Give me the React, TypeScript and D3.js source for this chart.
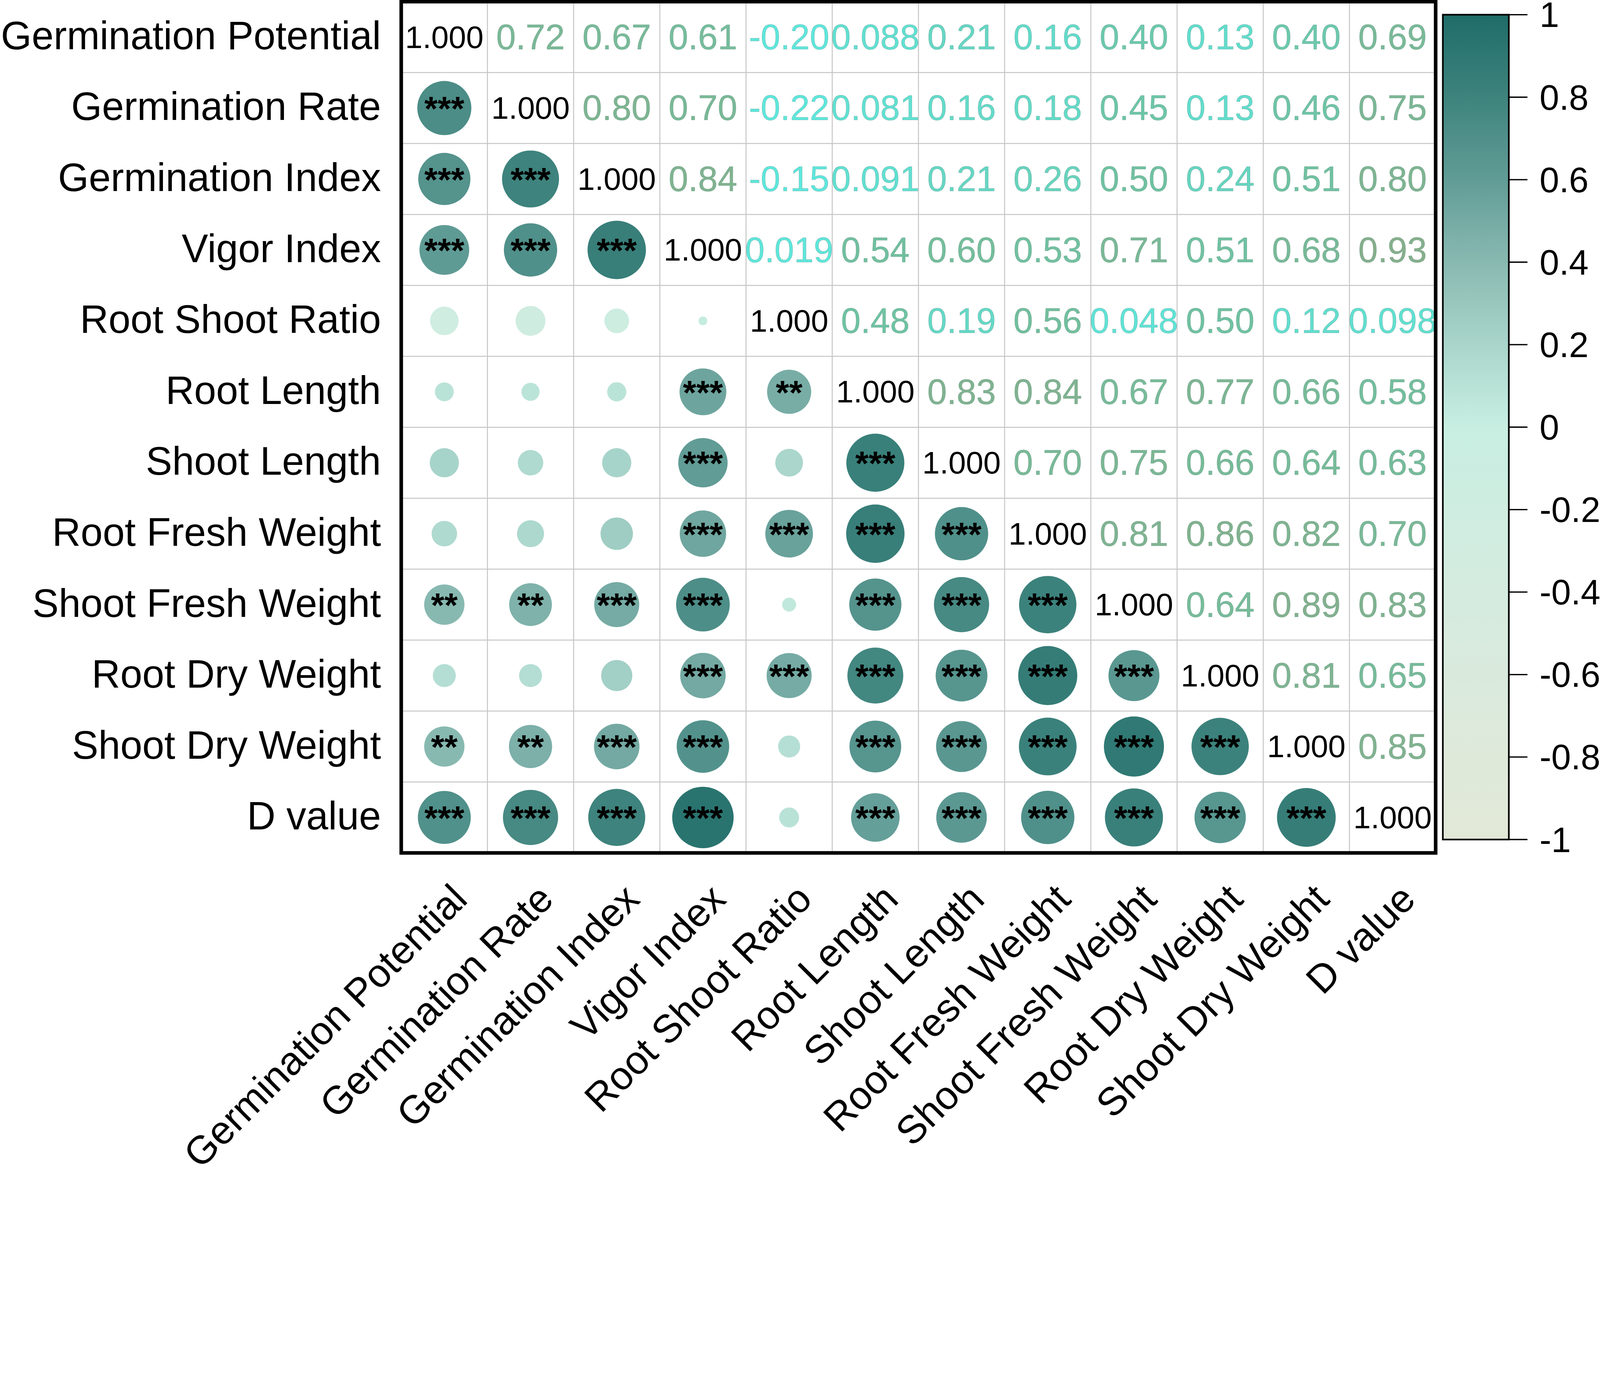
import React from "react";
import * as d3 from "d3";

const labels = [
  "Germination Potential",
  "Germination Rate",
  "Germination Index",
  "Vigor Index",
  "Root Shoot Ratio",
  "Root Length",
  "Shoot Length",
  "Root Fresh Weight",
  "Shoot Fresh Weight",
  "Root Dry Weight",
  "Shoot Dry Weight",
  "D value",
];

// upper triangle, row i holds columns i+1..11
const upper: number[][] = [
  [0.72, 0.67, 0.61, -0.2, 0.088, 0.21, 0.16, 0.4, 0.13, 0.4, 0.69],
  [0.8, 0.7, -0.22, 0.081, 0.16, 0.18, 0.45, 0.13, 0.46, 0.75],
  [0.84, -0.15, 0.091, 0.21, 0.26, 0.5, 0.24, 0.51, 0.8],
  [0.019, 0.54, 0.6, 0.53, 0.71, 0.51, 0.68, 0.93],
  [0.48, 0.19, 0.56, 0.048, 0.5, 0.12, 0.098],
  [0.83, 0.84, 0.67, 0.77, 0.66, 0.58],
  [0.7, 0.75, 0.66, 0.64, 0.63],
  [0.81, 0.86, 0.82, 0.7],
  [0.64, 0.89, 0.83],
  [0.81, 0.65],
  [0.85],
];

// significance marks, lower triangle, row i holds columns 0..i-1
const stars: string[][] = [
  [],
  ["***"],
  ["***", "***"],
  ["***", "***", "***"],
  ["", "", "", ""],
  ["", "", "", "***", "**"],
  ["", "", "", "***", "", "***"],
  ["", "", "", "***", "***", "***", "***"],
  ["**", "**", "***", "***", "", "***", "***", "***"],
  ["", "", "", "***", "***", "***", "***", "***", "***"],
  ["**", "**", "***", "***", "", "***", "***", "***", "***", "***"],
  ["***", "***", "***", "***", "", "***", "***", "***", "***", "***", "***"],
];

const barTicks = [1, 0.8, 0.6, 0.4, 0.2, 0, -0.2, -0.4, -0.6, -0.8, -1];

const W = 4897;
const H = 3568;
const FONT = "'Liberation Sans', Arial, sans-serif";
const frame = { x0: 1228, x1: 4394, y0: 5, y1: 2610 };
const bar = { x0: 4416, x1: 4618, y0: 45, y1: 2569 };

const circleColor = d3
  .scaleLinear<string>()
  .domain([-1, -0.4, 0, 0.2, 0.4, 0.6, 0.8, 1])
  .range([
    "#e2e8d8",
    "#d5ebdf",
    "#c8eee2",
    "#a9d5cb",
    "#88b9b1",
    "#619c96",
    "#3e837d",
    "#1f6c69",
  ]);

const textColor = d3
  .scaleLinear<string>()
  .domain([0, 0.5, 1])
  .range(["#5ee7dd", "#6fc2a1", "#88ac88"])
  .clamp(true);

function value(i: number, j: number) {
  if (i === j) return 1;
  const a = Math.min(i, j);
  const b = Math.max(i, j);
  return upper[a][b - a - 1];
}

function fmt(v: number) {
  return Math.abs(v) < 0.1 ? v.toFixed(3) : v.toFixed(2);
}

export default function App() {
  const n = labels.length;
  const idx = d3.range(n);
  const x = d3.scaleBand<number>().domain(idx).range([frame.x0, frame.x1]);
  const y = d3.scaleBand<number>().domain(idx).range([frame.y0, frame.y1]);
  const cx = (j: number) => x(j)! + x.bandwidth() / 2;
  const cy = (i: number) => y(i)! + y.bandwidth() / 2;
  const rMax = 97.5;
  const size = d3.scaleSqrt().domain([0, 1]).range([0, rMax]);

  const yBar = d3.scaleLinear().domain([-1, 1]).range([bar.y1, bar.y0]);
  const gradStops = d3.range(0, 1.0001, 0.05).map((t) => ({
    t,
    c: circleColor(1 - 2 * t),
  }));

  return (
    <svg
      viewBox={`0 0 ${W} ${H}`}
      preserveAspectRatio="xMinYMin meet"
      style={{
        position: "absolute",
        left: 0,
        top: 0,
        width: "100vw",
        height: `calc(100vw * ${H} / ${W})`,
        display: "block",
        background: "#fff",
      }}
      fontFamily={FONT}
    >
      <defs>
        <linearGradient id="cbar" x1="0" y1="0" x2="0" y2="1">
          {gradStops.map((s) => (
            <stop key={s.t} offset={s.t} stopColor={s.c} />
          ))}
        </linearGradient>
      </defs>
      <rect width={W} height={H} fill="#fff" />

      {/* grid */}
      <g stroke="#c6c6c6" strokeWidth={3}>
        {idx.slice(1).map((j) => (
          <line key={"v" + j} x1={x(j)} x2={x(j)} y1={frame.y0} y2={frame.y1} />
        ))}
        {idx.slice(1).map((i) => (
          <line key={"h" + i} y1={y(i)} y2={y(i)} x1={frame.x0} x2={frame.x1} />
        ))}
      </g>

      {/* cells */}
      {idx.map((i) =>
        idx.map((j) => {
          const v = value(i, j);
          if (i === j) {
            return (
              <text
                key={`${i}-${j}`}
                x={cx(j)}
                y={cy(i) + 33}
                textAnchor="middle"
                fontSize={96}
                fill="#000"
              >
                1.000
              </text>
            );
          }
          if (j > i) {
            return (
              <text
                key={`${i}-${j}`}
                x={cx(j)}
                y={cy(i) + 37}
                textAnchor="middle"
                fontSize={108}
                fill={textColor(v)}
                stroke="#3f6f62"
                strokeOpacity={0.35}
                strokeWidth={1.2}
              >
                {fmt(v)}
              </text>
            );
          }
          const s = stars[i][j];
          return (
            <g key={`${i}-${j}`}>
              <circle cx={cx(j)} cy={cy(i)} r={size(Math.abs(v))} fill={circleColor(v)} />
              {s && (
                <text
                  x={cx(j)}
                  y={cy(i) + 38}
                  textAnchor="middle"
                  fontSize={105}
                  fontWeight="bold"
                  fill="#000"
                >
                  {s}
                </text>
              )}
            </g>
          );
        })
      )}

      {/* frame */}
      <rect
        x={frame.x0}
        y={frame.y0}
        width={frame.x1 - frame.x0}
        height={frame.y1 - frame.y0}
        fill="none"
        stroke="#000"
        strokeWidth={11}
      />

      {/* row labels */}
      {labels.map((l, i) => (
        <text key={"r" + i} x={1166} y={cy(i) + 37} textAnchor="end" fontSize={121} fill="#000">
          {l}
        </text>
      ))}

      {/* column labels */}
      {labels.map((l, j) => (
        <text
          key={"c" + j}
          transform={`translate(${cx(j) + 76},${frame.y1 + 148}) rotate(-45)`}
          textAnchor="end"
          fontSize={121}
          fill="#000"
        >
          {l}
        </text>
      ))}

      {/* colour bar */}
      <rect
        x={bar.x0}
        y={bar.y0}
        width={bar.x1 - bar.x0}
        height={bar.y1 - bar.y0}
        fill="url(#cbar)"
        stroke="#000"
        strokeWidth={5}
      />
      {barTicks.map((t) => (
        <g key={"t" + t}>
          <line x1={bar.x1} x2={4675} y1={yBar(t)} y2={yBar(t)} stroke="#000" strokeWidth={4} />
          <text x={4712} y={yBar(t) + 38} fontSize={108} fill="#000">
            {String(t)}
          </text>
        </g>
      ))}
    </svg>
  );
}
